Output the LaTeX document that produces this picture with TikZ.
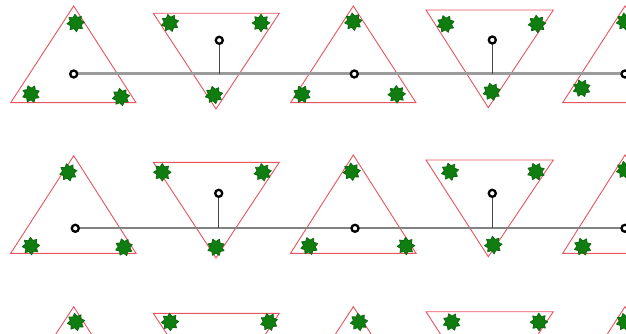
\documentclass[tikz,border=0pt]{standalone}
\usetikzlibrary{shapes.geometric}
\definecolor{trired}{RGB}{232,84,96}
\definecolor{leaf}{RGB}{16,125,16}
\definecolor{bondgray}{RGB}{155,155,155}
\definecolor{bondgraytwo}{RGB}{130,130,130}
\definecolor{stemgray}{RGB}{70,70,70}
\tikzset{
  tri/.style={draw=trired, line width=0.9pt, line join=miter},
  leafstar/.style={star, star points=8, star point ratio=1.5, minimum size=17.5pt, inner sep=0pt, fill=leaf, draw=leaf!85!black, line width=0.8pt, line join=round},
  ring/.style={circle, draw=black, line width=2.3pt, fill=white, minimum size=7pt, inner sep=0pt},
  bondone/.style={draw=bondgray, line width=3pt},
  bondtwo/.style={draw=bondgraytwo, line width=2.2pt},
  stem/.style={draw=stemgray, line width=1.2pt},
}
\begin{document}
\begin{tikzpicture}[x=1pt,y=-1pt]
\useasboundingbox (0,0) rectangle (626,334);
\fill[white] (0,0) rectangle (626,334);
\clip (0,0) rectangle (626,334);

% ---------- Row 1 ----------
\draw[tri] (73.7,6) -- (136,102.7) -- (10.7,102.7) -- cycle;
\draw[tri] (153.3,13.3) -- (279.3,13.3) -- (216,109) -- cycle;
\draw[tri] (353.3,6) -- (416,102.7) -- (290.5,102.7) -- cycle;
\draw[tri] (426,10) -- (553.3,10) -- (488.3,107.7) -- cycle;
\draw[tri] (625,6) -- (688,102.7) -- (562.7,102.7) -- cycle;

\coordinate (a1) at (73.7,74);
\coordinate (a2) at (219.3,40.3);
\coordinate (a3) at (354.3,74);
\coordinate (a4) at (492.3,40);
\coordinate (a5) at (625,74);
\draw[bondone] (a1) -- (a5);
\draw[stem] (a2) -- (a2 |- a1);
\draw[stem] (a4) -- (a4 |- a1);
\foreach \n in {a1,a2,a3,a4,a5} \node[ring] (r\n) at (\n) {};

\node[leafstar, rotate=5]  (s11) at (75.7,23) {};
\node[leafstar, rotate=20] (s12) at (31,94) {};
\node[leafstar, rotate=10] (s13) at (121,97) {};
\node[leafstar, rotate=15] (s14) at (170,23) {};
\node[leafstar, rotate=0]  (s15) at (261,23) {};
\node[leafstar, rotate=12] (s16) at (214,95) {};
\node[leafstar, rotate=8]  (s17) at (353.3,21.7) {};
\node[leafstar, rotate=22] (s18) at (302,94.3) {};
\node[leafstar, rotate=3]  (s19) at (396.7,94.3) {};
\node[leafstar, rotate=18] (s110) at (445.7,24) {};
\node[leafstar, rotate=6]  (s111) at (537,24) {};
\node[leafstar, rotate=14] (s112) at (491.7,91.7) {};
\node[leafstar, rotate=9]  (s113) at (625,21.7) {};
\node[leafstar, rotate=20] (s114) at (581.7,88.3) {};

% ---------- Row 2 ----------
\draw[tri] (73.7,155.7) -- (136,253.3) -- (10.7,253.3) -- cycle;
\draw[tri] (153.3,162.3) -- (279.3,162.3) -- (216,258) -- cycle;
\draw[tri] (353.3,155) -- (416,253.3) -- (290.5,253.3) -- cycle;
\draw[tri] (426,160) -- (553.3,160) -- (488.3,256.7) -- cycle;
\draw[tri] (625,155) -- (688,253.3) -- (562.7,253.3) -- cycle;

\coordinate (b1) at (75.3,228.3);
\coordinate (b2) at (218.7,193.3);
\coordinate (b3) at (355,228.3);
\coordinate (b4) at (492.3,193.3);
\coordinate (b5) at (625,228.3);
\draw[bondtwo] (b1) -- (b5);
\draw[stem] (b2) -- (b2 |- b1);
\draw[stem] (b4) -- (b4 |- b1);
\foreach \n in {b1,b2,b3,b4,b5} \node[ring] (r\n) at (\n) {};

\node[leafstar, rotate=12] (s21) at (68.3,172.3) {};
\node[leafstar, rotate=4]  (s22) at (31,246) {};
\node[leafstar, rotate=18] (s23) at (124,247.3) {};
\node[leafstar, rotate=0]  (s24) at (162.3,172.3) {};
\node[leafstar, rotate=10] (s25) at (262.7,172.3) {};
\node[leafstar, rotate=22] (s26) at (216,247.3) {};
\node[leafstar, rotate=7]  (s27) at (351.7,171.7) {};
\node[leafstar, rotate=16] (s28) at (309.3,246) {};
\node[leafstar, rotate=2]  (s29) at (406,246) {};
\node[leafstar, rotate=13] (s210) at (450,171.7) {};
\node[leafstar, rotate=21] (s211) at (536,171.7) {};
\node[leafstar, rotate=5]  (s212) at (493.3,245) {};
\node[leafstar, rotate=11] (s213) at (625,170) {};
\node[leafstar, rotate=19] (s214) at (582.7,246.7) {};

% ---------- Row 3 ----------
\draw[tri] (73.7,306.7) -- (136,403) -- (10.7,403) -- cycle;
\draw[tri] (153.3,313.3) -- (279.3,313.3) -- (216,409) -- cycle;
\draw[tri] (353.3,306.7) -- (416,403) -- (290.5,403) -- cycle;
\draw[tri] (426,311.7) -- (553.3,311.7) -- (488.3,408) -- cycle;
\draw[tri] (625,306.7) -- (688,403) -- (562.7,403) -- cycle;

\node[leafstar, rotate=10] (s31) at (76,322) {};
\node[leafstar, rotate=3]  (s32) at (170,322) {};
\node[leafstar, rotate=17] (s33) at (269,322) {};
\node[leafstar, rotate=8]  (s34) at (359,322) {};
\node[leafstar, rotate=20] (s35) at (451.7,322) {};
\node[leafstar, rotate=1]  (s36) at (539,322) {};
\node[leafstar, rotate=14] (s37) at (625,322) {};
\end{tikzpicture}
\end{document}
